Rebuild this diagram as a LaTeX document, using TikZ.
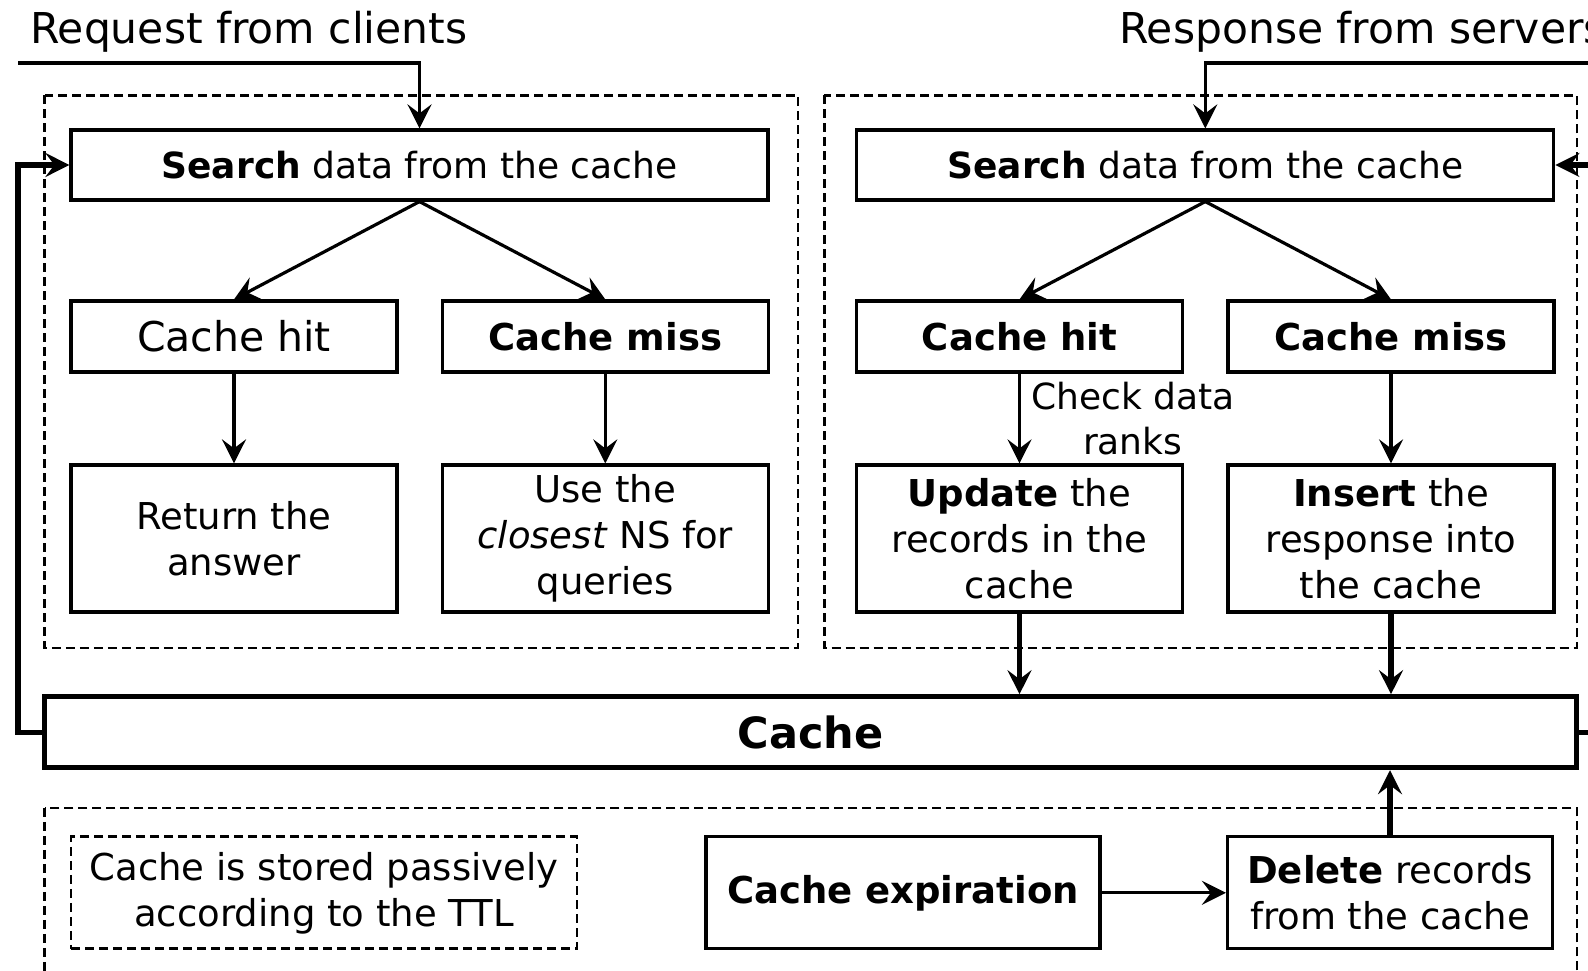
\documentclass[tikz,border=0pt]{standalone}
\usepackage{fontspec}
\setmainfont{DejaVu Sans}
\usepackage{tikz}
\usetikzlibrary{arrows.meta,positioning,calc}

\begin{document}
\begin{tikzpicture}[>={Stealth[length=24bp,width=24bp,inset=9bp]},line join=miter,
  box/.style={draw,line width=3.2bp,inner sep=0pt,align=center,
    font=\fontsize{37bp}{46bp}\selectfont},
  bar/.style={draw,line width=5bp,inner sep=0pt,
    font=\fontsize{43bp}{50bp}\selectfont\bfseries},
  dashbox/.style={line width=2.8bp,dash pattern=on 9bp off 5bp},
  arr/.style={->,line width=3.2bp},
  thickarr/.style={->,line width=5.2bp},
  lbl/.style={inner sep=0pt,font=\fontsize{42.5bp}{48bp}\selectfont},
]
\useasboundingbox (0,0) rectangle (1588bp,971bp);
\clip (0,0) rectangle (1588bp,971bp);
%%
\draw [dashbox] (44.6bp,875.8bp) rectangle (798bp,323bp);
\draw [dashbox] (824.4bp,875.8bp) rectangle (1577bp,323bp);
\draw [dashbox] (44.6bp,163bp) rectangle (1577bp,-20bp);
%%
\node (req) at (30bp,939bp) [lbl,anchor=west] {Request from clients};
\node (resp) at (1119bp,939bp) [lbl,anchor=west] {Response from servers};
\coordinate (reqin) at (18bp,908bp);
\coordinate (respin) at (1600bp,908bp);
%% client side
\node (searchL) at (419.5bp,806bp) [box,minimum width=697bp,minimum height=70bp,font=\fontsize{36bp}{46bp}\selectfont] {\textbf{Search} data from the cache};
\node (hitL) at (234bp,634.5bp) [box,minimum width=326bp,minimum height=71bp,font=\fontsize{41bp}{46bp}\selectfont] {Cache hit};
\node (missL) at (605.3bp,634.5bp) [box,minimum width=326bp,minimum height=71bp] {\textbf{Cache miss}};
\node (answer) at (234bp,432.5bp) [box,minimum width=326bp,minimum height=147bp] {Return the\\answer};
\node (closest) at (605.3bp,432.5bp) [box,minimum width=326bp,minimum height=147bp] {Use the\\\textit{closest} NS for\\queries};
%% server side
\node (searchR) at (1205.3bp,806bp) [box,minimum width=697bp,minimum height=70bp,font=\fontsize{36bp}{46bp}\selectfont] {\textbf{Search} data from the cache};
\node (hitR) at (1019.5bp,634.5bp) [box,minimum width=326bp,minimum height=71bp] {\textbf{Cache hit}};
\node (missR) at (1391bp,634.5bp) [box,minimum width=326bp,minimum height=71bp] {\textbf{Cache miss}};
\node (update) at (1019.5bp,432.5bp) [box,minimum width=326bp,minimum height=147bp] {\textbf{Update} the\\records in the\\cache};
\node (insert) at (1391bp,432.5bp) [box,minimum width=326bp,minimum height=147bp] {\textbf{Insert} the\\response into\\the cache};
%% cache
\node (cache) at (810.8bp,238.8bp) [bar,minimum width=1532bp,minimum height=71bp] {Cache};
\coordinate (loopL) at (18bp,238.8bp);
\coordinate (loopR) at (1600bp,238.8bp);
\node (stored) at (324bp,78.2bp) [box,dashed,dash pattern=on 9bp off 5bp,line width=2.8bp,minimum width=506bp,minimum height=112bp] {Cache is stored passively\\according to the TTL};
\node (expire) at (903bp,78.2bp) [box,minimum width=394bp,minimum height=112bp] {\textbf{Cache expiration}};
\node (delete) at (1390bp,78.2bp) [box,minimum width=325bp,minimum height=112bp] {\textbf{Delete} records\\from the cache};
%%
\draw [arr] (reqin) -| (searchL.north);
\draw [arr] (respin) -| (searchR.north);
\draw [arr] (searchL.south) -- (hitL.north);
\draw [arr] (searchL.south) -- (missL.north);
\draw [arr] (searchR.south) -- (hitR.north);
\draw [arr] (searchR.south) -- (missR.north);
\draw [arr] (hitL) -- (answer);
\draw [arr] (missL) -- (closest);
\draw [arr] (hitR) -- node [anchor=west,xshift=10bp,align=center,inner sep=0pt,font=\fontsize{36bp}{45bp}\selectfont] {Check data\\ranks} (update);
\draw [arr] (missR) -- (insert);
\draw [thickarr] (update.south) -- (update.south |- cache.north);
\draw [thickarr] (insert.south) -- (insert.south |- cache.north);
\draw [thickarr] (delete.north) -- (delete.north |- cache.south);
\draw [arr] (expire) -- (delete);
\draw [thickarr] (cache.west) -- (loopL) |- (searchL.west);
\draw [thickarr] (cache.east) -- (loopR) |- (searchR.east);
%
\end{tikzpicture}
\end{document}
